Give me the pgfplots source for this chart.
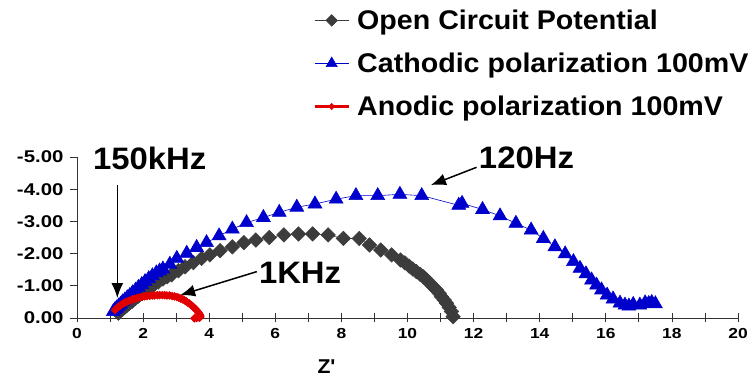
\documentclass[border=0pt]{standalone}
\usepackage{fontspec}
\setmainfont{Liberation Sans}[FakeStretch=1.06]
\newfontfamily\widesans{Liberation Sans}[FakeStretch=1.2]
\newfontfamily\plainsans{Liberation Sans}[FakeStretch=1.06, Ligatures=TeXOff]
\usepackage{pgfplots}
\pgfplotsset{compat=1.18}
\usetikzlibrary{arrows.meta}

\definecolor{ocpgray}{RGB}{60,60,60}
\definecolor{cathblue}{RGB}{0,0,205}
\definecolor{anodred}{RGB}{225,0,0}

\begin{document}
\begin{tikzpicture}
\useasboundingbox (-77pt,-59pt) rectangle (673pt,318pt);
\begin{axis}[
  at={(0,0)}, anchor=south west,
  scale only axis, width=661pt, height=161pt,
  xmin=0, xmax=20, ymin=-5, ymax=0,
  y dir=reverse,
  axis x line=bottom, axis y line=left,
  axis line style={-, black!80, line width=0.8pt},
  xtick={0,2,...,20}, minor xtick={1,3,...,19},
  ytick={-5,-4,...,0},
  xtick align=center, ytick align=outside,
  major tick length=9pt, minor tick length=9pt,
  y tick style={/pgfplots/major tick length=7pt},
  every tick/.style={black!80, line width=0.8pt},
  /pgf/number format/assume math mode=true,
  yticklabel style={/pgf/number format/fixed, /pgf/number format/fixed zerofill, /pgf/number format/precision=2,
    font=\widesans\fontsize{17}{17}\selectfont\bfseries, xshift=-1pt},
  xticklabel style={font=\widesans\fontsize{14.5}{14.5}\selectfont\bfseries, yshift=-2pt},
  xlabel={Z'},
  xlabel style={font=\plainsans\fontsize{20}{20}\selectfont\bfseries, at={(axis cs:7.55,0)}, anchor=center, yshift=-49pt},
  clip=false,
  legend style={draw=none, fill=none, at={(axis description cs:0.3525,1.94)}, anchor=north west,
    font=\fontsize{27}{27}\selectfont\bfseries, row sep=18pt, column sep=5pt,
    cells={anchor=west, inner xsep=6pt}},
  legend image code/.code={\draw[mark repeat=2,mark phase=2, every mark/.append style={scale=0.8}]
    plot coordinates {(0pt,0pt)(17pt,0pt)(34pt,0pt)};},
]

% Open circuit potential
\addplot[color=ocpgray, line width=0.6pt, mark=square*, mark size=5.1pt,
  mark options={rotate=45, fill=ocpgray, draw=ocpgray}] table {
1.25 -0.15
1.30 -0.20
1.36 -0.26
1.43 -0.32
1.50 -0.38
1.58 -0.45
1.67 -0.52
1.76 -0.60
1.86 -0.68
1.97 -0.76
2.08 -0.85
2.20 -0.94
2.33 -1.03
2.46 -1.12
2.60 -1.21
2.73 -1.28
2.86 -1.34
3.07 -1.47
3.27 -1.59
3.52 -1.72
3.77 -1.85
4.02 -1.96
4.33 -2.09
4.70 -2.21
5.05 -2.34
5.41 -2.42
5.82 -2.50
6.26 -2.58
6.70 -2.61
7.13 -2.61
7.60 -2.58
8.06 -2.47
8.54 -2.47
8.85 -2.27
9.19 -2.11
9.52 -1.96
9.79 -1.80
9.92 -1.71
10.05 -1.61
10.16 -1.52
10.27 -1.44
10.38 -1.36
10.48 -1.28
10.58 -1.18
10.68 -1.08
10.78 -0.97
10.88 -0.87
10.96 -0.77
11.03 -0.66
11.11 -0.56
11.18 -0.46
11.26 -0.33
11.33 -0.20
11.38 -0.04
};
\addlegendentry{Open Circuit Potential}

% Cathodic polarization
\addplot[color=cathblue, line width=0.6pt, mark=triangle*, mark size=8pt,
  mark options={fill=cathblue, draw=cathblue}] table {
1.10 -0.20
1.15 -0.26
1.20 -0.31
1.26 -0.37
1.32 -0.43
1.38 -0.50
1.45 -0.56
1.52 -0.63
1.60 -0.70
1.68 -0.78
1.77 -0.86
1.86 -0.95
1.96 -1.04
2.06 -1.13
2.17 -1.22
2.28 -1.31
2.40 -1.40
2.50 -1.46
2.60 -1.52
2.81 -1.67
3.02 -1.85
3.32 -2.01
3.62 -2.19
3.92 -2.34
4.30 -2.55
4.70 -2.76
5.13 -2.96
5.64 -3.12
6.12 -3.28
6.65 -3.44
7.20 -3.54
7.84 -3.69
8.44 -3.80
9.10 -3.80
9.77 -3.84
10.43 -3.80
11.55 -3.50
11.65 -3.56
12.27 -3.37
12.80 -3.17
13.28 -2.94
13.74 -2.73
14.11 -2.47
14.46 -2.21
14.77 -1.99
15.02 -1.75
15.22 -1.54
15.40 -1.37
15.57 -1.18
15.72 -1.02
15.87 -0.87
16.04 -0.71
16.22 -0.59
16.43 -0.46
16.58 -0.40
16.70 -0.37
16.83 -0.42
17.03 -0.40
17.19 -0.47
17.30 -0.45
17.39 -0.48
17.50 -0.44
};
\addlegendentry{Cathodic polarization 100mV}

% Anodic polarization
\addplot[color=anodred, line width=3pt, mark=square*, mark size=2.8pt,
  mark options={rotate=45, fill=anodred, draw=anodred, line width=0.5pt}] table {
1.15 -0.25
1.19 -0.29
1.22 -0.32
1.26 -0.35
1.30 -0.38
1.35 -0.42
1.40 -0.45
1.45 -0.48
1.50 -0.50
1.56 -0.53
1.62 -0.55
1.68 -0.58
1.75 -0.60
1.82 -0.62
1.90 -0.64
1.97 -0.66
2.05 -0.67
2.12 -0.68
2.20 -0.69
2.28 -0.70
2.35 -0.70
2.43 -0.71
2.50 -0.71
2.58 -0.71
2.65 -0.71
2.72 -0.70
2.80 -0.70
2.88 -0.68
2.95 -0.67
3.02 -0.65
3.08 -0.63
3.14 -0.60
3.20 -0.58
3.25 -0.55
3.30 -0.52
3.35 -0.48
3.40 -0.45
3.44 -0.41
3.48 -0.38
3.52 -0.34
3.55 -0.31
3.59 -0.27
3.62 -0.24
3.65 -0.20
3.67 -0.17
3.69 -0.14
3.71 -0.11
3.72 -0.08
3.73 -0.06
3.73 -0.03
3.70 -0.01
3.62 0.00
3.55 0.01
};
\addlegendentry{Anodic polarization 100mV}

% Frequency annotations
\node[font=\fontsize{31}{31}\selectfont\bfseries] at (axis cs:2.2,-4.95) {150kHz};
\draw[-{Latex[length=15pt,width=12pt]}, line width=1.5pt] (axis cs:1.22,-4.13) -- (axis cs:1.22,-0.62);
\node[font=\fontsize{31}{31}\selectfont\bfseries] at (axis cs:6.75,-1.4) {1KHz};
\draw[-{Latex[length=15pt,width=12pt]}, line width=1.5pt] (axis cs:5.44,-1.44) -- (axis cs:3.12,-0.71);
\node[font=\fontsize{31}{31}\selectfont\bfseries] at (axis cs:13.6,-4.98) {120Hz};
\draw[-{Latex[length=15pt,width=12pt]}, line width=1.5pt] (axis cs:12.09,-4.68) -- (axis cs:10.71,-4.13);
\end{axis}
\end{tikzpicture}
\end{document}
